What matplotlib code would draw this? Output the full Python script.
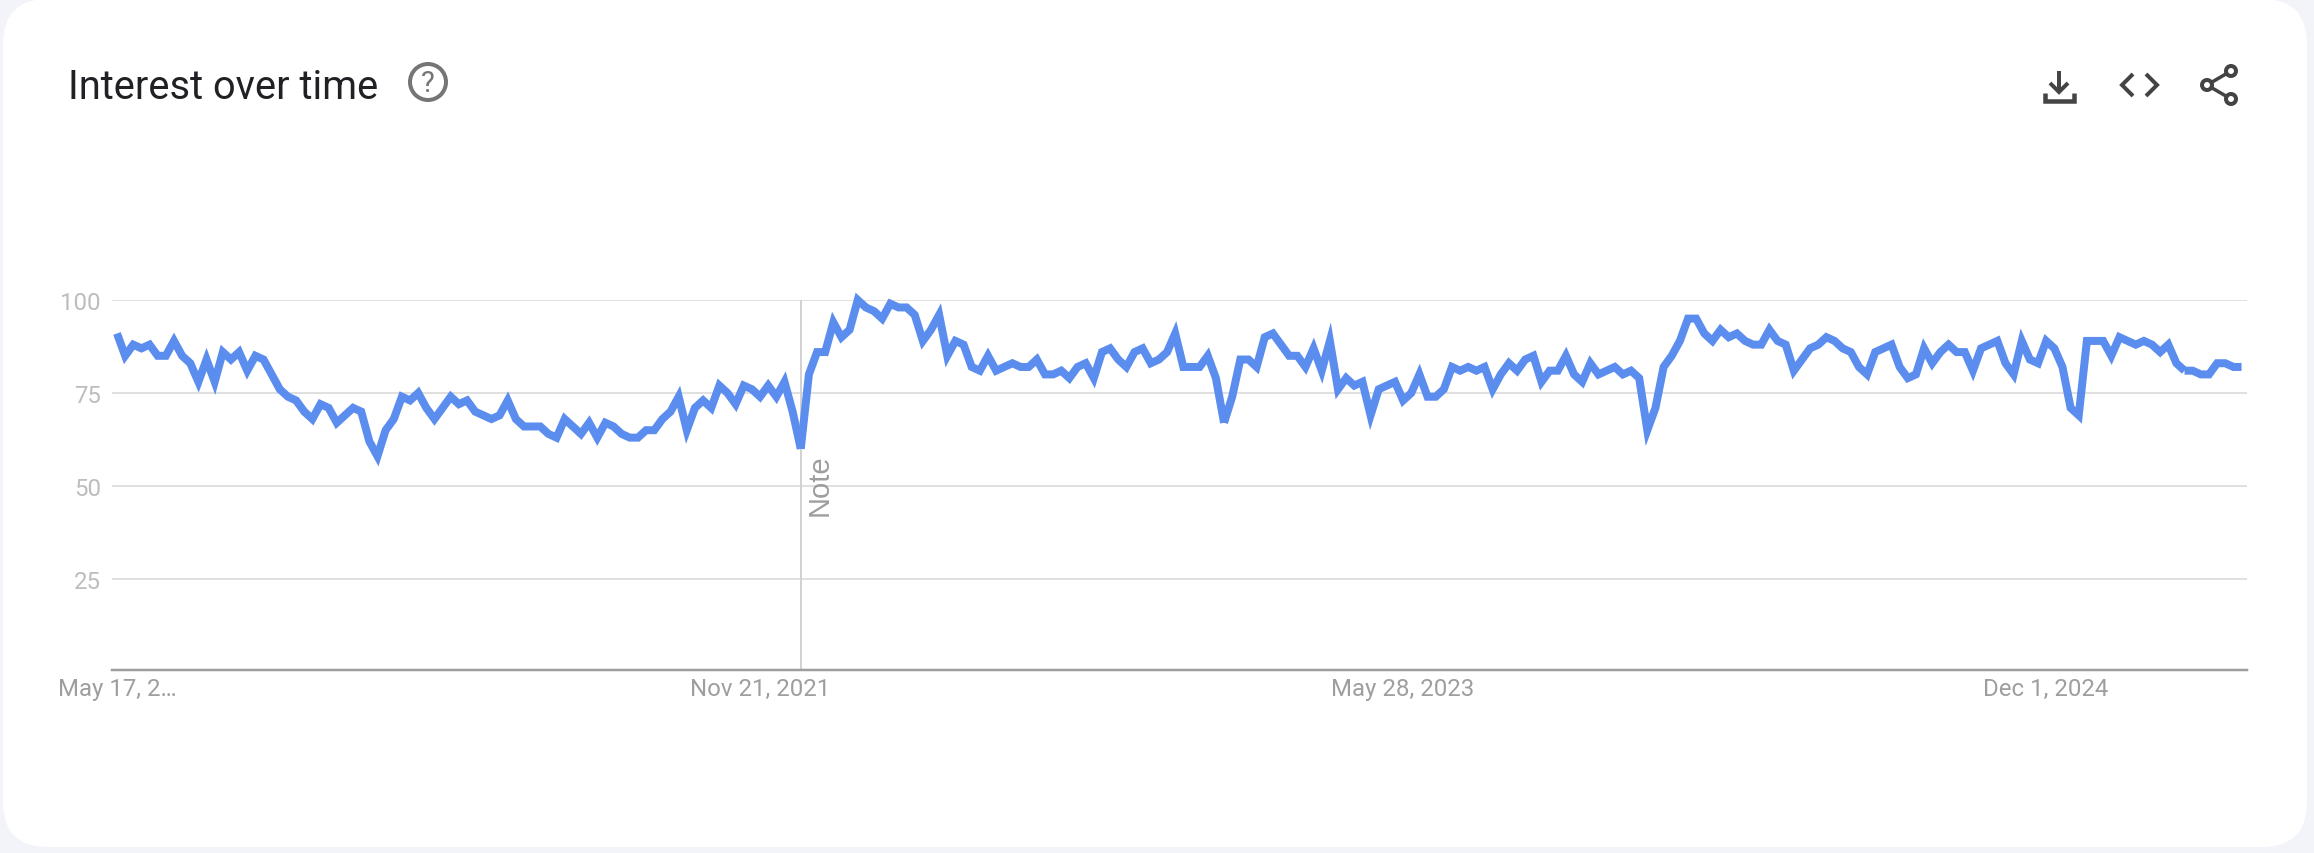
import matplotlib
matplotlib.use("Agg")
import matplotlib.pyplot as plt
from matplotlib.patches import Circle, FancyBboxPatch
import pandas as pd

W, H = 2314, 854
BLUE = "#5b8def"
ICON = "#444444"
PX = 72 / 100  # one pixel in points at dpi 100

START = "2020-05-17"
interest = [
    91, 85, 88, 87, 88, 85, 85, 89, 85, 83, 78, 84, 78, 86, 84, 86, 81, 85, 84, 80,
    76, 74, 73, 70, 68, 72, 71, 67, 69, 71, 70, 62, 58, 65, 68, 74, 73, 75, 71, 68,
    71, 74, 72, 73, 70, 69, 68, 69, 73, 68, 66, 66, 66, 64, 63, 68, 66, 64, 67, 63,
    67, 66, 64, 63, 63, 65, 65, 68, 70, 74, 65, 71, 73, 71, 77, 75, 72, 77, 76, 74,
    77, 74, 78, 70, 60, 80, 86, 86, 94, 90, 92, 100, 98, 97, 95, 99, 98, 98, 96, 89,
    92, 96, 85, 89, 88, 82, 81, 85, 81, 82, 83, 82, 82, 84, 80, 80, 81, 79, 82, 83,
    79, 86, 87, 84, 82, 86, 87, 83, 84, 86, 91, 82, 82, 82, 85, 79, 67, 74, 84, 84,
    82, 90, 91, 88, 85, 85, 82, 87, 81, 89, 76, 79, 77, 78, 69, 76, 77, 78, 73, 75,
    80, 74, 74, 76, 82, 81, 82, 81, 82, 76, 80, 83, 81, 84, 85, 78, 81, 81, 85, 80,
    78, 83, 80, 81, 82, 80, 81, 79, 65, 71, 82, 85, 89, 95, 95, 91, 89, 92, 90, 91,
    89, 88, 88, 92, 89, 88, 81, 84, 87, 88, 90, 89, 87, 86, 82, 80, 86, 87, 88, 82,
    79, 80, 87, 83, 86, 88, 86, 86, 81, 87, 88, 89, 83, 80, 89, 84, 83, 89, 87, 82,
    71, 69, 89, 89, 89, 85, 90, 89, 88, 89, 88, 86, 88, 83, 81, 81, 80, 80, 83, 83,
    82, 82,
]
# the line is drawn in pieces: the two deepest dips end flat, and the last weeks are partial data
line_breaks = [84, 136, 254]
y_ticks = [25, 50, 75, 100]
x_tick_dates = ["2020-05-17", "2021-11-21", "2023-05-28", "2024-12-01"]
x_tick_labels = ["May 17, 2…", "Nov 21, 2021", "May 28, 2023", "Dec 1, 2024"]
note_date = "2021-12-26"

plt.rcParams["font.family"] = ["Roboto", "DejaVu Sans"]

fig = plt.figure(figsize=(W / 100, H / 100), dpi=100, facecolor="#f2f4fa")

# page furniture, in pixel coordinates
bg = fig.add_axes([0, 0, 1, 1], zorder=0)
bg.set_xlim(0, W)
bg.set_ylim(H, 0)
bg.axis("off")
radius = 45
bg.add_patch(FancyBboxPatch((3 + radius, radius), 2304 - 2 * radius, 848 - 2 * radius,
                            boxstyle=f"round,pad={radius},rounding_size={radius}",
                            facecolor="white", edgecolor="none"))
bg.text(68, 99, "Interest over time", fontsize=28.7, color="#202124", va="baseline", ha="left")

bg.add_patch(Circle((428, 83), 18, facecolor="none", edgecolor="#757575", linewidth=4 * PX))
bg.text(428, 84, "?", fontsize=21, color="#757575", ha="center", va="center")


def icon_line(xs, ys, lw=4):
    bg.plot(xs, ys, color=ICON, linewidth=lw * PX, solid_joinstyle="miter", solid_capstyle="butt")


icon_line([2059, 2059], [72, 92])
icon_line([2050, 2059, 2068], [84, 93, 84])
icon_line([2045, 2045, 2074, 2074], [94, 102, 102, 94], lw=4.5)
icon_line([2133, 2122, 2133], [75, 86, 97])
icon_line([2146, 2157, 2146], [75, 86, 97])
icon_line([2231, 2207, 2231], [72, 86, 100], lw=3.5)
for cx, cy in [(2231, 72), (2207, 86), (2231, 100)]:
    bg.add_patch(Circle((cx, cy), 5, facecolor="white", edgecolor=ICON, linewidth=4 * PX, zorder=5))

# chart
left, right, top, base = 112, 2247, 301, 673
ax = fig.add_axes([left / W, 1 - base / H, (right - left) / W, (base - top) / H], zorder=1)
ax.patch.set_alpha(0)

weeks = pd.date_range(START, periods=len(interest), freq="7D")
px_per_week = 8.14
pad_left = pd.Timedelta(weeks=(117 - left) / px_per_week)
pad_right = pd.Timedelta(weeks=(right - 117) / px_per_week)
ax.set_xlim(weeks[0] - pad_left, weeks[0] + pad_right)
ax.set_ylim(0, 100)

ax.yaxis.grid(True, color="#e0e0e0", linewidth=2 * PX, zorder=1)
ax.xaxis.grid(False)
ax.set_axisbelow(True)

ax.vlines(pd.Timestamp(note_date), 0.5, 100, color="#d2d2d2", linewidth=2 * PX, zorder=2)
ax.annotate("Note", xy=(pd.Timestamp(note_date), 50), xytext=(19 * PX, 1.5 * PX), textcoords="offset points",
            rotation=90, ha="center", va="center", color="#9e9e9e", fontsize=21, family="Liberation Sans")

line_style = dict(color=BLUE, linewidth=8 * PX, solid_joinstyle="miter", solid_capstyle="butt",
                  clip_on=False, zorder=3)
starts = [0] + line_breaks
stops = line_breaks + [len(interest) - 1]
for i0, i1 in zip(starts, stops):
    ax.plot(weeks[i0:i1 + 1], interest[i0:i1 + 1], **line_style)

for name, spine in ax.spines.items():
    spine.set_visible(name == "bottom")
ax.spines["bottom"].set_position(("data", 0.5))
ax.spines["bottom"].set_color("#9e9e9e")
ax.spines["bottom"].set_linewidth(2.5 * PX)

ax.set_yticks(y_ticks)
ax.set_yticklabels([str(v) for v in y_ticks])
ax.set_xticks(pd.to_datetime(x_tick_dates))
ax.set_xticklabels(x_tick_labels)
ax.tick_params(axis="y", length=0, pad=8, labelsize=17.3, labelcolor="#bdbdbd")
ax.tick_params(axis="x", length=0, pad=5, labelsize=17.3, labelcolor="#9e9e9e")

fig.savefig("out.png", dpi=100)
plt.close(fig)
